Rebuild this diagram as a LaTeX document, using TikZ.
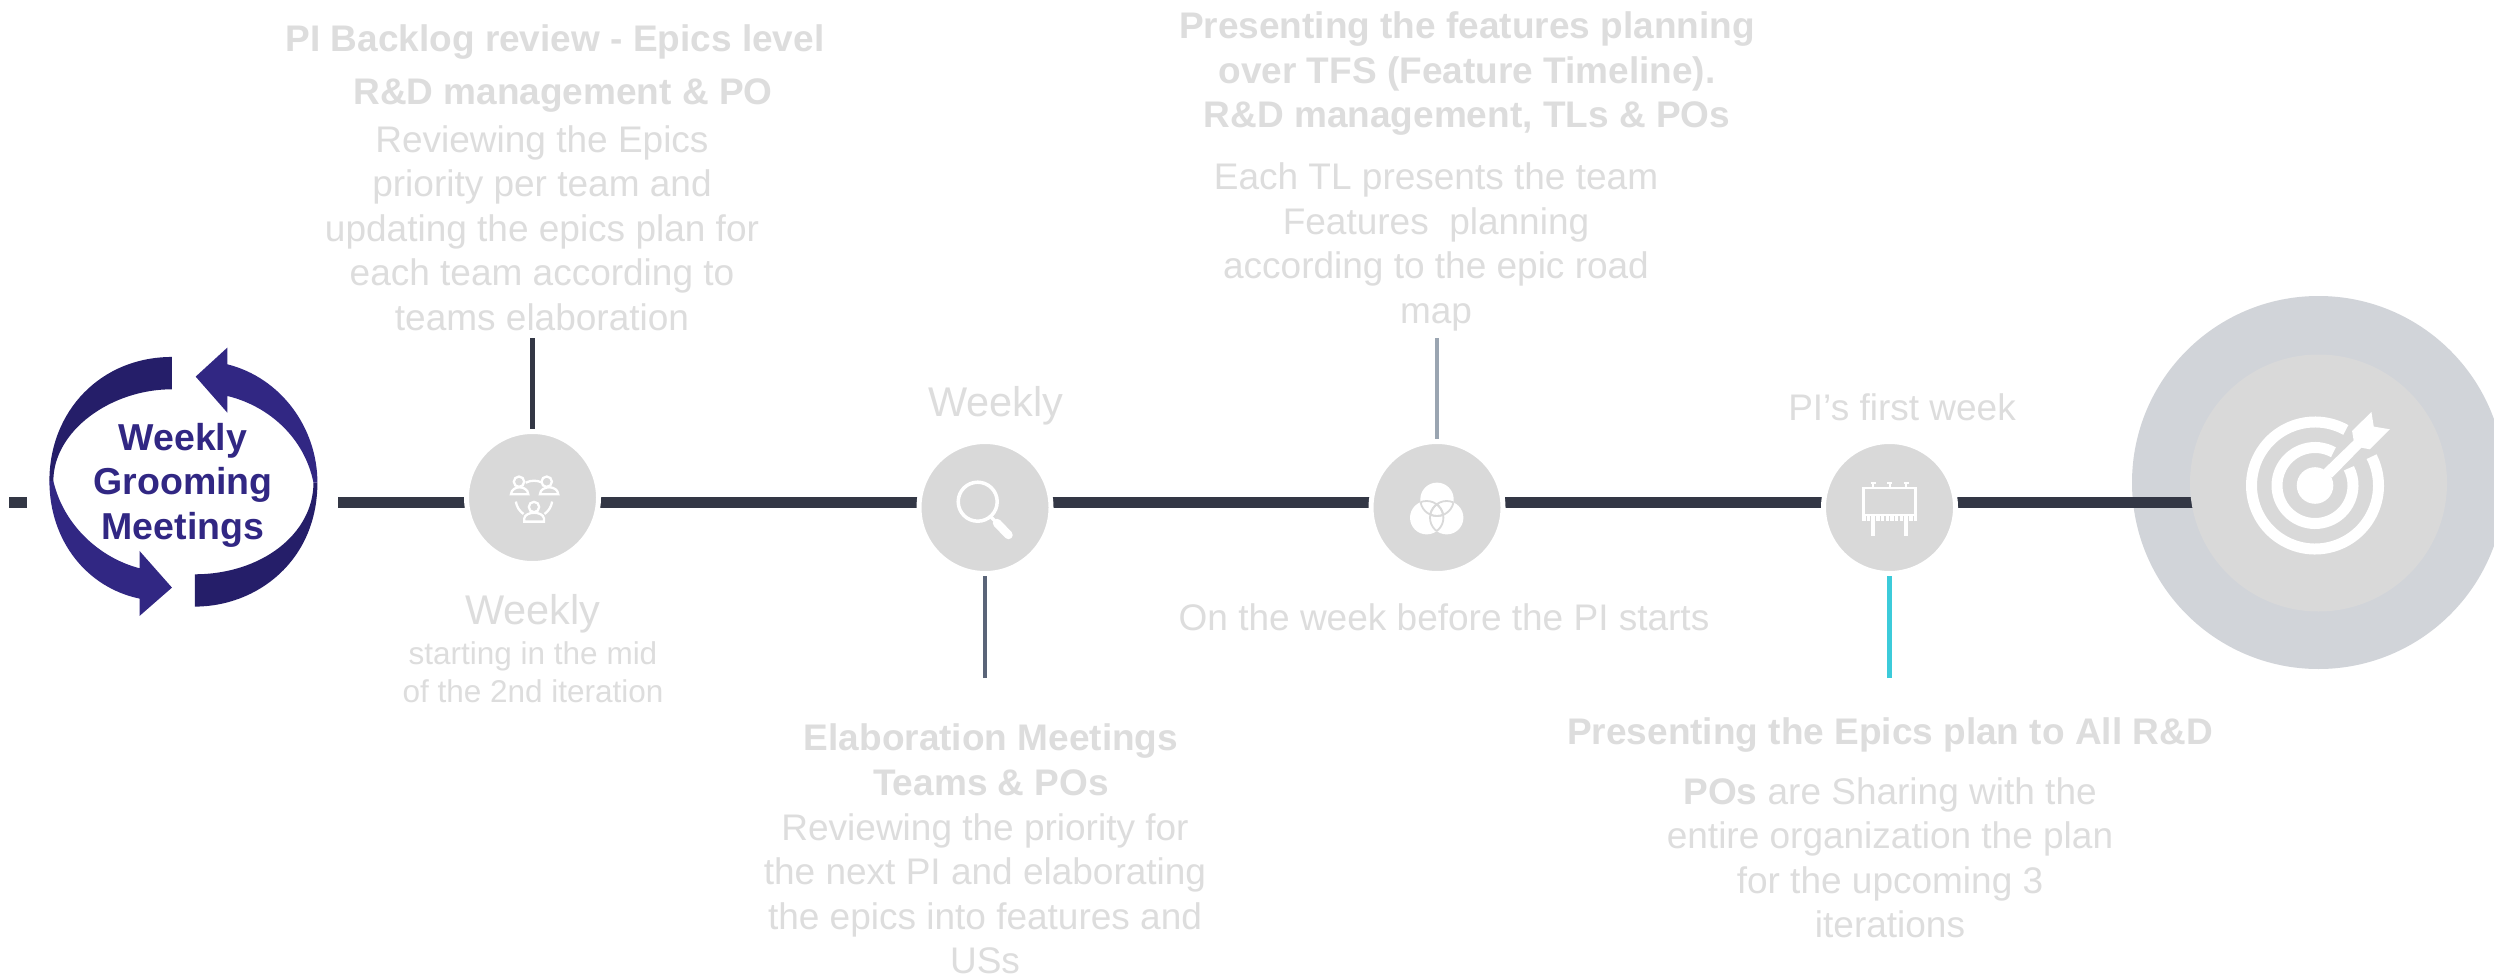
\documentclass[tikz,border=0pt]{standalone}
\usepackage{fontspec}
\setmainfont{Liberation Sans}
\usetikzlibrary{backgrounds}
\definecolor{txtgrey}{HTML}{DDDDDD}
\definecolor{dotgrey}{HTML}{D9D9D9}
\definecolor{ringgrey}{HTML}{D1D4D9}
\definecolor{axisdark}{HTML}{333745}
\definecolor{navyd}{HTML}{251E69}
\definecolor{navyl}{HTML}{312783}
\definecolor{tickslate}{HTML}{5A6478}
\definecolor{tickgrey}{HTML}{9AA5B1}
\definecolor{tickcyan}{HTML}{3CCBDA}
\tikzset{
  body/.style={font=\fontsize{37}{44.5}\selectfont,text=txtgrey,align=center,inner sep=0pt},
  head/.style={font=\fontsize{37}{44.5}\selectfont\bfseries,text=txtgrey,align=center,inner sep=0pt},
  big/.style={font=\fontsize{41.5}{48}\selectfont,text=txtgrey,align=center,inner sep=0pt},
  small/.style={font=\fontsize{31.5}{38}\selectfont,text=txtgrey,align=center,inner sep=0pt},
  dot/.style={circle,fill=dotgrey,draw=white,line width=5pt,minimum size=132pt,inner sep=0pt,outer sep=0pt},
  axisline/.style={draw=axisdark,line width=11.5pt},
  tick/.style={line width=4.5pt},
  pic line/.style={draw=white,line width=2.3pt},
}
\begin{document}
\begin{tikzpicture}[x=1pt,y=-1pt]
\begin{pgfonlayer}{background}
\fill[white] (0,0) rectangle (2494,976);
\end{pgfonlayer}
\useasboundingbox (0,0) rectangle (2494,976);
\begin{scope}[yshift=-1pt]
% named positions
\coordinate (axis) at (0,501.5);
\coordinate (stubL) at (9,501.5);
\coordinate (stubR) at (27,501.5);
\coordinate (loopOut) at (338,501.5);
\coordinate (up1) at (532.5,337);
\coordinate (dn2) at (985,677);
\coordinate (up3) at (1437,337);
\coordinate (dn4) at (1889.5,677);
% circles
\node[dot] (c1) at (532.5,496.5) {};
\node[dot] (c2) at (985,506.5) {};
\node[dot] (c3) at (1437,506.5) {};
\node[dot] (c4) at (1889.5,506.5) {};
\node[circle,fill=dotgrey,minimum size=257pt,inner sep=0pt,outer sep=0pt] (goal) at (2318.5,482) {};
\begin{pgfonlayer}{background}
\node[circle,fill=ringgrey,minimum size=373pt,inner sep=0pt,outer sep=0pt] (goalring) at (2318.5,481.5) {};
\draw[axisline] (stubL) -- (stubR);
\draw[axisline] (loopOut) -- (c1 |- axis);
\draw[axisline] (c1 |- axis) -- (c2 |- axis);
\draw[axisline] (c2 |- axis) -- (c3 |- axis);
\draw[axisline] (c3 |- axis) -- (c4 |- axis);
\draw[axisline] (c4 |- axis) -- (goal |- axis);
\draw[tick,draw=axisdark] (up1) -- (c1.north);
\draw[tick,draw=tickslate] (dn2) -- (c2.south);
\draw[tick,draw=tickgrey] (up3) -- (c3.north);
\draw[tick,draw=tickcyan] (dn4) -- (c4.south);
\end{pgfonlayer}
% loop arrows
\begin{scope}[x=0.3953pt,y=-0.3333pt,shift={(0,960)}]
\fill[navyd] (435,108) .. controls (255,108) and (125,270) .. (125,480)
  -- (135,480) .. controls (135,330) and (280,205) .. (435,205) -- cycle;
\fill[navyd] (493,760) .. controls (660,760) and (793,640) .. (793,485)
  -- (803,485) .. controls (803,720) and (650,857) .. (493,857) -- cycle;
\fill[navyl] (135,480) .. controls (160,610) and (250,710) .. (353,742) -- (353,690) -- (435,800)
  -- (353,885) -- (353,833) .. controls (220,800) and (125,660) .. (125,480) -- cycle;
\fill[navyl] (495,167) -- (575,80) -- (575,130) .. controls (710,170) and (803,320) .. (803,485)
  -- (793,485) .. controls (770,350) and (680,255) .. (575,225) -- (575,275) -- cycle;
\end{scope}
\node[font=\fontsize{37.5}{44.5}\selectfont\bfseries,text=navyl,align=center,inner sep=0pt] (loop) at (183,484) {Weekly\\Grooming\\Meetings};
% target icon
\begin{scope}[shift={(2315,484.5)},y=1pt]
\draw[white,line width=11pt] (61:63.5) arc[start angle=61,end angle=387,radius=63.5];
\draw[white,line width=11pt] (61:38) arc[start angle=61,end angle=387,radius=38];
\fill[white] (0,0) circle[radius=18.3];
\end{scope}
\begin{scope}[x=0.3333pt,y=-0.3333pt,shift={(6300,840)}]
\fill[white] (672,565) -- (697,590) -- (785,500) -- (762,478) -- cycle;
\fill[white] (757,450) -- (815,393) -- (822,437) -- (870,445) -- (810,505) -- (783,500) -- (762,480) -- cycle;
\end{scope}
% people icon
\draw[pic line] (519,480.7) circle[radius=5.2] (546.7,480.7) circle[radius=5.2] (534,506) circle[radius=5.2];
\begin{scope}[x=0.3333pt,y=-0.3333pt,shift={(1485,1380)}]
\draw[pic line] (48,100) .. controls (50,72) and (98,72) .. (100,100) -- cycle;
\draw[pic line] (135,100) .. controls (137,72) and (188,72) .. (190,100) -- cycle;
\draw[pic line] (88,182) -- (88,172) .. controls (92,150) and (143,150) .. (147,172) -- (147,182) -- cycle;
\end{scope}
\draw[pic line] (534,498) ++(243:18.3) arc[start angle=243,end angle=297,radius=18.3];
\draw[pic line] (534,498) ++(125:18.3) arc[start angle=125,end angle=172,radius=18.3];
\draw[pic line] (534,498) ++(8:18.3) arc[start angle=8,end angle=55,radius=18.3];
% magnifier icon
\draw[white,line width=3.5pt] (977.7,500.7) circle[radius=19.5];
\draw[white,line width=3.5pt] (991,516) -- (997,522);
\draw[white,line width=8.5pt,line cap=round] (997,522) -- (1008.5,534);
% venn icon
\fill[white] (1437,498.3) circle[radius=16.7] (1426.7,516.7) circle[radius=16.7] (1446.7,516.7) circle[radius=16.7];
\begin{scope}\clip (1437,498.3) circle[radius=16.7];
\draw[dotgrey,line width=1.8pt] (1426.7,516.7) circle[radius=16.7] (1446.7,516.7) circle[radius=16.7];\end{scope}
\begin{scope}\clip (1426.7,516.7) circle[radius=16.7];
\draw[dotgrey,line width=1.8pt] (1437,498.3) circle[radius=16.7] (1446.7,516.7) circle[radius=16.7];\end{scope}
\begin{scope}\clip (1446.7,516.7) circle[radius=16.7];
\draw[dotgrey,line width=1.8pt] (1437,498.3) circle[radius=16.7] (1426.7,516.7) circle[radius=16.7];\end{scope}
% billboard icon
\draw[white,line width=2.8pt] (1863.5,487) rectangle (1915.5,514);
\draw[white,line width=5pt,dash pattern=on 3.5pt off 1.2pt] (1862,517.5) -- (1917,517.5);
\draw[white,line width=4pt] (1873,520) -- (1873,535) (1906,520) -- (1906,535);
\foreach \bx in {1873,1889.5,1906}{
  \draw[white,line width=2pt] (\bx,482) -- (\bx,487);
  \draw[white,line width=2.4pt] (\bx-2.5,482) -- (\bx+2.5,482);
}
% texts
\node[head] (t1a) at (555,41) {PI Backlog review - Epics level};
\node[head] (t1b) at (563,95) {R\&D management \& PO};
\node[body] (t1c) at (542,227) {Reviewing the Epics\\priority per team and\\updating the epics plan for\\each team according to\\teams elaboration};
\node[big] (t2a) at (533,613) {Weekly};
\node[small] (t2b) at (533,671) {starting in the mid\\of the 2nd iteration};
\node[big] (t3a) at (996,405) {Weekly};
\node[head] (t3b) at (991,759) {Elaboration Meetings\\Teams \& POs};
\node[body] (t3c) at (985,893) {Reviewing the priority for\\the next PI and elaborating\\the epics into features and\\USs};
\node[head] (t4a) at (1467,73) {Presenting the features planning\\over TFS (Feature Timeline).\\R\&D management, TLs \& POs};
\node[body] (t4b) at (1436,246) {Each TL presents the team\\Features\ \ planning\\according to the epic road\\map};
\node[body] (t4c) at (1444,616) {On the week before the PI starts};
\node[body] (t5a) at (1902,406) {PI’s first week};
\node[head] (t5b) at (1890,734) {Presenting the Epics plan to All R\&D};
\node[body] (t5c) at (1890,857) {\textbf{POs} are Sharing with the\\entire organization the plan\\for the upcoming 3\\iterations};
\end{scope}
\end{tikzpicture}
\end{document}
